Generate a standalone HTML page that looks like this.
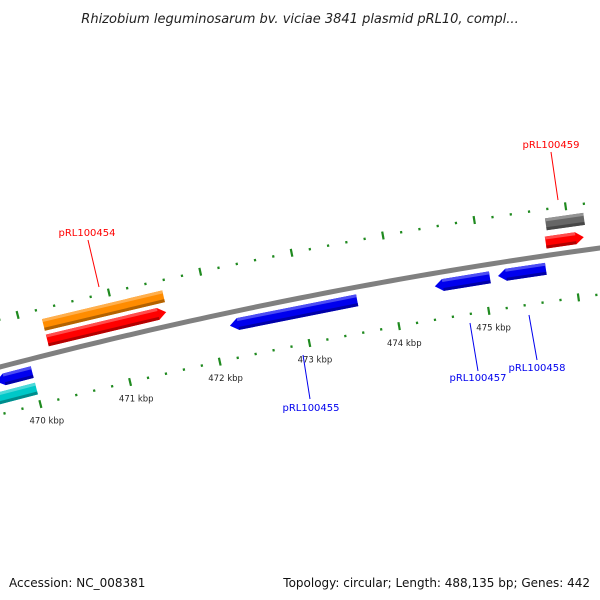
<!DOCTYPE html>
<html><head><meta charset="utf-8"><style>
body{margin:0;background:#fff}
svg{display:block;font-family:"DejaVu Sans","Liberation Sans",sans-serif}
</style></head><body>
<svg id="map" width="600" height="600" viewBox="0 0 600 600" xmlns="http://www.w3.org/2000/svg">
<rect width="600" height="600" fill="#fff"/>
<text x="300" y="23" text-anchor="middle" font-size="13" font-style="italic" fill="#222">Rhizobium leguminosarum bv. viciae 3841 plasmid pRL10, compl...</text>
<text x="9" y="587" font-size="12" fill="#111">Accession: NC_008381</text>
<text x="590" y="587" text-anchor="end" font-size="12" fill="#111">Topology: circular; Length: 488,135 bp; Genes: 442</text>
<g id="g"></g>
</svg>
<script>
const majorTicks=[470,471,472,473,474,475,476];
const tickLabels=["470 kbp","471 kbp","472 kbp","473 kbp","474 kbp","475 kbp"];
const geneNames=["pRL100454a","pRL100454","pRL100459a","pRL100459","pRL100455","pRL100457","pRL100458","left-blue","left-cyan"];
const geneStart=[470.24,470.24,475.76,475.73,472.19,474.46,475.16,469.6,469.4];
const geneEnd=[471.56,471.55,476.18,476.15,473.60,475.07,475.69,470.0,470.0];
const geneRow=[-30,-14,-31,-13,13,13,13,13,30];
const geneDir=[0,1,0,1,-1,-1,-1,-1,0];
const geneColor=["#ff8c00","#ff0000","#666666","#ff0000","#0000ee","#0000ee","#0000ee","#0000ee","#00c8c8"];

const NS="http://www.w3.org/2000/svg";
const g=document.getElementById('g');
const A=367,B=-0.2617,C=1.056e-4;
function by(x){return A+B*x+C*x*x;}
function kx(k){return 29+90.5*(k-470);}
function pt(k,off){const x=kx(k);const s=B+2*C*x;const L=Math.sqrt(1+s*s);return [x-off*s/L,by(x)+off/L];}
function add(tag,attrs){const e=document.createElementNS(NS,tag);for(const a in attrs)e.setAttribute(a,attrs[a]);g.appendChild(e);return e;}

// backbone
let d="";for(let x=-10;x<=610;x+=10){d+=(x==-10?"M":"L")+x+","+by(x).toFixed(2);}
let bb=add('path',{d:d,stroke:'#808080','stroke-width':5,fill:'none'});



// ticks
for(const off of [-46,46]){
  for(let i=0;i<=40;i++){
    const k=469.6+i*0.2;const major=Math.abs(k-Math.round(k))<0.01;
    const len=major?4:1.2;
    const p1=pt(k,off-len),p2=pt(k,off+len);
    const t=add('line',{x1:p1[0],y1:p1[1],x2:p2[0],y2:p2[1],stroke:'#1f8a1f','stroke-width':2.2});
    
    
  }
}
tickLabels.forEach((lab,i)=>{
  const p=pt(majorTicks[i],64);
  const t=add('text',{x:p[0]+2,y:p[1]+2,'font-size':8.5,fill:'#222','text-anchor':'middle'});
  t.textContent=lab;
  
  
});

// genes
function shade(c,f){const n=parseInt(c.slice(1),16);let r=n>>16,gg=(n>>8)&255,b=n&255;
  const m=v=>Math.max(0,Math.min(255,Math.round(f>1?v+(255-v)*(f-1):v*f)));
  return `rgb(${m(r)},${m(gg)},${m(b)})`;}
geneNames.forEach((nm,i)=>{
  const h=6,off=geneRow[i],s=geneStart[i],e=geneEnd[i],dir=geneDir[i];
  const head=8/90.5;
  let pts=[];
  let s2=s,e2=e;
  if(dir===1)e2=e-head;if(dir===-1)s2=s+head;
  pts.push(pt(s2,off-h));pts.push(pt(e2,off-h));
  if(dir===1)pts.push(pt(e,off));
  pts.push(pt(e2,off+h));pts.push(pt(s2,off+h));
  if(dir===-1)pts.push(pt(s,off));
  const poly=add('polygon',{points:pts.map(p=>p.join(',')).join(' '),fill:geneColor[i]});
  
  
  const hl=[pt(s2,off-h),pt(e2,off-h),pt(e2,off-h+3),pt(s2,off-h+3)];
  const p2=add('polygon',{points:hl.map(p=>p.join(',')).join(' '),fill:shade(geneColor[i],1.3)});
  
  
  const sh=[pt(s2,off+h-3),pt(e2,off+h-3),pt(e2,off+h),pt(s2,off+h)];
  const p3=add('polygon',{points:sh.map(p=>p.join(',')).join(' '),fill:shade(geneColor[i],0.7)});
  
  
});

// labels
const labels=[["pRL100454",87,236,"#ff0000",88,240,99,287],["pRL100459",551,148,"#ff0000",551,152,558,200],
["pRL100455",311,411,"#0000ee",303,355,310,399],["pRL100457",478,381,"#0000ee",470,323,478,371],
["pRL100458",537,371,"#0000ee",529,315,537,360]];
labels.forEach(l=>{
  const ln=add('line',{x1:l[4],y1:l[5],x2:l[6],y2:l[7],stroke:l[3],'stroke-width':1});
  
  
  const t=add('text',{x:l[1],y:l[2],'font-size':10,fill:l[3],'text-anchor':'middle'});
  t.textContent=l[0];
  
  
});
</script>
</body></html>
